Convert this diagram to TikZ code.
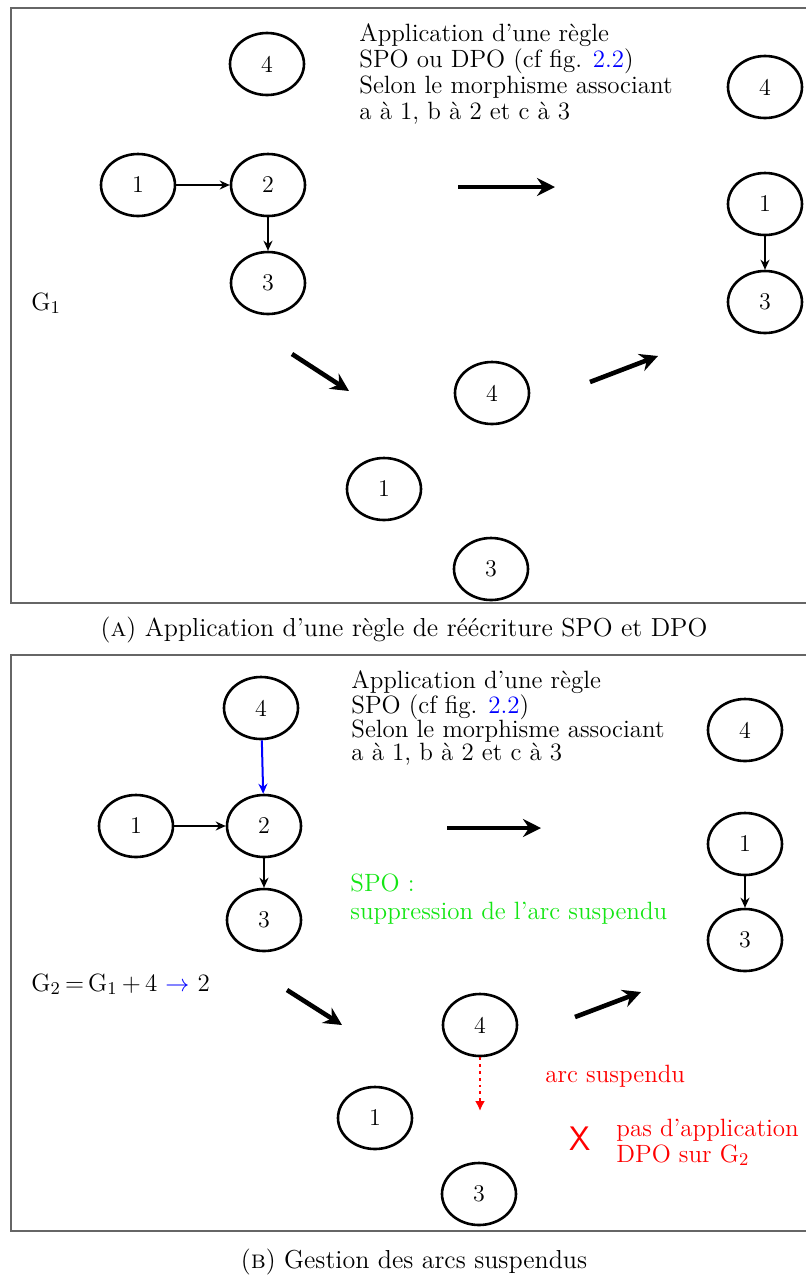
\documentclass[tikz,border=0pt]{standalone}
\usepackage{amsmath}
\usepackage{xcolor}
\usepackage{tikz}
\usetikzlibrary{positioning,calc,shapes.geometric,arrows.meta}
\definecolor{VertSPO}{RGB}{20,230,20}

\begin{document}
\begin{tikzpicture}[x=0.5pt, y=-0.5pt,
                % Style des sommets
                etat/.style={ellipse, draw=black, line width=1.3pt, minimum width=37pt, minimum height=31pt, inner sep=0pt, font=\fontsize{12}{14}\selectfont},
                % Style des arcs
                arete/.style={-{Stealth[length=5pt, width=4.5pt]}, line width=1pt},
                grandefleche/.style={-{Stealth[length=9pt, width=9pt, inset=3pt]}, line width=2.3pt},
                % Style des textes
                texte/.style={anchor=base west, inner sep=0pt, font=\fontsize{12.5}{14}\selectfont},
                legende/.style={anchor=base, inner sep=0pt, font=\fontsize{13}{15}\selectfont},
                cadre/.style={draw=black!60, line width=0.8pt}
            ]
                \useasboundingbox (0,0) rectangle (806,1276);
                \clip (0,0) rectangle (806,1276);

                % --- CADRES ---
                \draw[cadre] (11,8) rectangle (830,603);
                \draw[cadre] (11,655) rectangle (830,1231);

                % ================= (A) =================
                % Graphe G1
                \node[etat] (a4) at (267, 64) {4};
                \node[etat] (a1) at (138, 185) {1};
                \node[etat] (a2) at (268, 185) {2};
                \node[etat] (a3) at (268, 283) {3};
                \node[texte] (g1) at (31, 310) {G$_1$};

                \draw[arete] (a1) -- (a2);
                \draw[arete] (a2) -- (a3);

                % Texte de la règle
                \node[texte] (ta1) at (359, 41) {Application d’une règle};
                \node[texte] (ta2) at (359, 67) {SPO ou DPO (cf fig. \textcolor{blue}{2.2})};
                \node[texte] (ta3) at (359, 93) {Selon le morphisme associant};
                \node[texte] (ta4) at (359, 119) {a à 1, b à 2 et c à 3};

                % Résultat à droite
                \node[etat] (ra4) at (765, 87) {4};
                \node[etat] (ra1) at (765, 204) {1};
                \node[etat] (ra3) at (765, 302) {3};
                \draw[arete] (ra1) -- (ra3);

                % Résultat intermédiaire
                \node[etat] (ma4) at (492, 393) {4};
                \node[etat] (ma1) at (384, 489) {1};
                \node[etat] (ma3) at (491, 569) {3};

                % Grandes flèches
                \coordinate (fa1) at (458, 187); \coordinate (fa2) at (555, 187);
                \coordinate (fa3) at (292, 354); \coordinate (fa4) at (349, 391);
                \coordinate (fa5) at (590, 382); \coordinate (fa6) at (658, 356);
                \draw[grandefleche] (fa1) -- (fa2);
                \draw[grandefleche] (fa3) -- (fa4);
                \draw[grandefleche] (fa5) -- (fa6);

                \node[legende] (capa) at (404, 636) {(\textsc{a}) Application d’une règle de réécriture SPO et DPO};

                % ================= (B) =================
                % Graphe G2
                \node[etat] (b4) at (261, 708) {4};
                \node[etat] (b1) at (136, 826) {1};
                \node[etat] (b2) at (264, 826) {2};
                \node[etat] (b3) at (264, 920) {3};
                \node[texte] (g2) at (31, 991) {G$_2$\,=\,G$_1$\,+\,4 \textcolor{blue}{$\rightarrow$} 2};

                \draw[arete] (b1) -- (b2);
                \draw[arete] (b2) -- (b3);
                \draw[arete, draw=blue, -{Stealth[length=5pt, width=4.5pt, blue]}] (b4) -- (b2);

                % Texte de la règle
                \node[texte] (tb1) at (351, 688) {Application d’une règle};
                \node[texte] (tb2) at (351, 713) {SPO (cf fig. \textcolor{blue}{2.2})};
                \node[texte] (tb3) at (351, 737) {Selon le morphisme associant};
                \node[texte] (tb4) at (351, 760) {a à 1, b à 2 et c à 3};

                \node[texte, text=VertSPO] (spo1) at (350, 891) {SPO :};
                \node[texte, text=VertSPO] (spo2) at (350, 919) {suppression de l’arc suspendu};

                % Résultat à droite
                \node[etat] (rb4) at (745, 730) {4};
                \node[etat] (rb1) at (745, 844) {1};
                \node[etat] (rb3) at (745, 940) {3};
                \draw[arete] (rb1) -- (rb3);

                % Résultat intermédiaire (arc suspendu)
                \node[etat] (mb4) at (480, 1025) {4};
                \node[etat] (mb1) at (375, 1118) {1};
                \node[etat] (mb3) at (479, 1194) {3};
                \coordinate (susp) at (480, 1111);
                \draw[red, line width=1.4pt, dotted, -{Latex[length=5pt, width=5pt, red]}] (mb4) -- (susp);

                \node[texte, text=red] (arcs) at (545, 1082) {arc suspendu};
                \node[text=red, inner sep=0pt, font=\sffamily\fontsize{17}{17}\selectfont] (croix) at (580, 1139) {X};
                \node[texte, text=red] (pas1) at (616, 1136) {pas d’application};
                \node[texte, text=red] (pas2) at (616, 1162) {DPO sur G$_2$};

                % Grandes flèches
                \coordinate (fb1) at (447, 828); \coordinate (fb2) at (541, 828);
                \coordinate (fb3) at (287, 990); \coordinate (fb4) at (342, 1025);
                \coordinate (fb5) at (575, 1017); \coordinate (fb6) at (641, 992);
                \draw[grandefleche] (fb1) -- (fb2);
                \draw[grandefleche] (fb3) -- (fb4);
                \draw[grandefleche] (fb5) -- (fb6);

                \node[legende] (capb) at (414, 1268) {(\textsc{b}) Gestion des arcs suspendus};

            \end{tikzpicture}
\end{document}
